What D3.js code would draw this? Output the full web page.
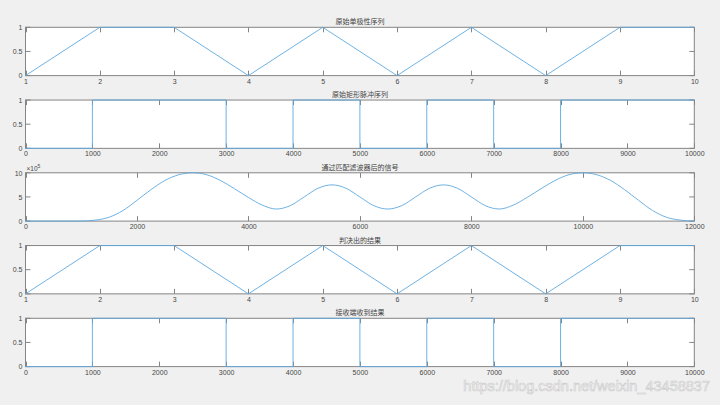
<!DOCTYPE html>
<html><head><meta charset="utf-8">
<script src="https://cdn.jsdelivr.net/npm/d3@7"></script>
<style>
html,body{margin:0;padding:0;background:#f0f0f0;}
svg{display:block;}
</style></head>
<body>
<svg id="c" width="720" height="405"></svg>
<script>
// ---- data ----
const titles = ["原始单极性序列","原始矩形脉冲序列","通过匹配滤波器后的信号","判决出的结果","接收端收到结果"];
const bitIndex = [1,2,3,4,5,6,7,8,9,10];
const sourceBits = [0,1,1,0,1,0,1,0,1,1];
const decidedBits = [0,1,1,0,1,0,1,0,1,1];
const samplesPerBit = 1000;
const pulseTicks = [0,1000,2000,3000,4000,5000,6000,7000,8000,9000,10000];
const bitTicks = [1,2,3,4,5,6,7,8,9,10];
const unitYTicks = [0,0.5,1];
const mfTicks = [0,2000,4000,6000,8000,10000,12000];
const mfYTicks = [0,5,10];
// matched filter output (units of 10^5)
const mfX = [0,250,500,750,1000,1250,1500,1750,2000,2250,2500,2750,3000,3250,3500,3750,4000,4250,4500,4750,5000,5250,5500,5750,6000,6250,6500,6750,7000,7250,7500,7750,8000,8250,8500,8750,9000,9250,9500,9750,10000,10250,10500,10750,11000,11250,11500,11750,12000];
const mfY = [0,0,0,0,0,0.2,0.8,2.2,4.3,6.5,8.4,9.6,10,9.6,8.4,6.7,4.9,3.3,2.5,3.2,5.0,6.8,7.5,6.8,5.0,3.2,2.5,3.2,5.0,6.8,7.5,6.8,5.0,3.2,2.5,3.3,4.9,6.7,8.4,9.6,10,9.6,8.4,6.5,4.3,2.2,0.8,0.2,0];

// ---- layout ----
const svg = d3.select("#c");
const L = 25.5, R = 694.3, H = 48.3;
const tops = [27.3, 100.05, 172.8, 245.55, 318.3];
const lineColor = "#5eaae0";
const axColor = "#858585";
const txtColor = "#474747";
const font = "Liberation Sans, Arial, sans-serif";

function stepPts(bits){
  const p = bits.map((b,i)=>[i*samplesPerBit,b]);
  p.push([bits.length*samplesPerBit, bits[bits.length-1]]);
  return p;
}

const panels = [
  {xd:[1,10], yd:[0,1], xt:bitTicks, yt:unitYTicks, pts: bitIndex.map((x,i)=>[x,sourceBits[i]]), curve:d3.curveLinear},
  {xd:[0,10000], yd:[0,1], xt:pulseTicks, yt:unitYTicks, pts: stepPts(sourceBits), curve:d3.curveStepAfter},
  {xd:[0,12000], yd:[0,10], xt:mfTicks, yt:mfYTicks, pts: mfX.map((x,i)=>[x,mfY[i]]), curve:d3.curveMonotoneX, exp:true},
  {xd:[1,10], yd:[0,1], xt:bitTicks, yt:unitYTicks, pts: bitIndex.map((x,i)=>[x,decidedBits[i]]), curve:d3.curveLinear},
  {xd:[0,10000], yd:[0,1], xt:pulseTicks, yt:unitYTicks, pts: stepPts(decidedBits), curve:d3.curveStepAfter}
];

const TL = 5;
panels.forEach((p,k)=>{
  const top = tops[k], bot = top + H;
  const x = d3.scaleLinear().domain(p.xd).range([L,R]);
  const y = d3.scaleLinear().domain(p.yd).range([bot,top]);
  const g = svg.append("g");
  g.append("rect").attr("x",L).attr("y",top).attr("width",R-L).attr("height",H).attr("fill","#fff");
  // ticks inside (all four sides)
  const tg = g.append("g").attr("stroke",axColor).attr("stroke-width",1);
  p.xt.forEach(t=>{
    const xx = Math.round(x(t))+0.5;
    tg.append("line").attr("x1",xx).attr("x2",xx).attr("y1",bot).attr("y2",bot-TL);
    tg.append("line").attr("x1",xx).attr("x2",xx).attr("y1",top).attr("y2",top+TL);
  });
  p.yt.forEach(t=>{
    const yy = y(t);
    tg.append("line").attr("x1",L).attr("x2",L+TL).attr("y1",yy).attr("y2",yy);
    tg.append("line").attr("x1",R).attr("x2",R-TL).attr("y1",yy).attr("y2",yy);
  });
  // box
  g.append("rect").attr("x",L).attr("y",top).attr("width",R-L).attr("height",H)
    .attr("fill","none").attr("stroke",axColor).attr("stroke-width",1);
  // data line (drawn over the box, as in the original)
  const line = d3.line().x(d=>x(d[0])).y(d=>y(d[1])).curve(p.curve);
  g.append("path").datum(p.pts).attr("d",line).attr("fill","none")
    .attr("stroke",lineColor).attr("stroke-width",1).attr("stroke-opacity",0.9);
  // tick labels
  const xa = d3.axisBottom(x).tickValues(p.xt).tickSize(0).tickPadding(3).tickFormat(d3.format("~g"));
  const xg = g.append("g").attr("transform",`translate(0,${bot})`).call(xa);
  xg.select(".domain").remove();
  xg.selectAll("text").attr("fill",txtColor).attr("font-size",7).attr("font-family",font);
  const ya = d3.axisLeft(y).tickValues(p.yt).tickSize(0).tickPadding(3).tickFormat(d3.format("~g"));
  const yg = g.append("g").attr("transform",`translate(${L},0)`).call(ya);
  yg.select(".domain").remove();
  yg.selectAll("text").attr("fill",txtColor).attr("font-size",7).attr("font-family",font);
  // title
  g.append("text").attr("x",(L+R)/2).attr("y",top-3).attr("text-anchor","middle")
    .attr("font-size",7).attr("font-family","Noto Sans CJK SC, sans-serif").attr("fill","#444")
    .text(titles[k]);
  if(p.exp){
    const t = g.append("text").attr("x",L+1).attr("y",top-2).attr("font-size",6.5)
      .attr("font-family",font).attr("fill",txtColor);
    t.append("tspan").text("×10");
    t.append("tspan").attr("dy",-3).attr("font-size",5).text("5");
  }
});

// watermark
svg.append("text").attr("x",710).attr("y",391).attr("text-anchor","end")
  .attr("font-family",font).attr("font-size",14.5)
  .attr("fill","rgba(255,255,255,0.75)").attr("stroke","#c9c9c9").attr("stroke-width",0.6)
  .text("https://blog.csdn.net/weixin_43458837");
</script>
</body></html>
